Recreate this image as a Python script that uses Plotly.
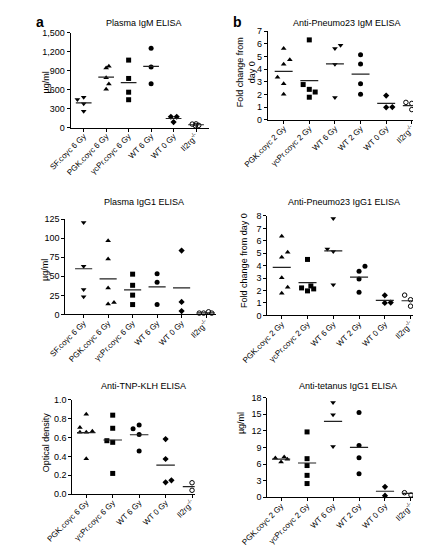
import numpy as np
import plotly.graph_objects as go

# ---------------- data ----------------
cats_a = ["SF.coγc 6 Gy", "PGK.coγc 6 Gy", "γcPr.coγc 6 Gy", "WT 6 Gy", "WT 0 Gy", "Il2rg<sup>-/-</sup>"]
cats_b = ["PGK.coγc 2 Gy", "γcPr.coγc 2 Gy", "WT 6 Gy", "WT 2 Gy", "WT 0 Gy", "Il2rg<sup>-/-</sup>"]
cats_tnp = ["PGK.coγc 6 Gy", "γcPr.coγc 6 Gy", "WT 6 Gy", "WT 0 Gy", "Il2rg<sup>-/-</sup>"]

# Plasma IgM (µg/ml)
igm_sf = [445, 481, 378, 259]
igm_pgk = [967, 941, 786, 688, 605]
igm_gcpr = [1066, 776, 559, 440]
igm_wt6 = [1252, 957, 693]
igm_wt0 = [171, 171, 88]
igm_il2rg = [55, 58, 35, 30]

# Anti-Pneumo23 IgM (fold change)
pnm_pgk = [5.62, 4.38, 4.74, 3.35, 2.84, 2.01]
pnm_gcpr = [6.31, 2.78, 2.40, 2.19, 1.78]
pnm_wt6 = [5.62, 5.88, 4.38, 1.75]
pnm_wt2 = [5.13, 4.41, 2.84, 2.01]
pnm_wt0 = [1.91, 0.98, 1.00]
pnm_il2rg = [1.37, 1.29, 0.80, 0.98]

# Plasma IgG1 (µg/ml)
igg_sf = [120.7, 63.1, 32.6, 23.2]
igg_pgk = [96.6, 72.6, 34.8, 13.7, 15.5]
igg_gcpr = [52.8, 38.2, 25.3, 12.9]
igg_wt6 = [53.3, 42.1, 12.9]
igg_wt0 = [83.8, 16.3, 4.3]
igg_il2rg = [1.7, 1.7, 3.4, 1.7]

# Anti-Pneumo23 IgG1 (fold change)
png_pgk = [6.37, 5.08, 4.68, 3.03, 2.26, 1.79]
png_gcpr = [4.50, 2.21, 1.97, 2.37, 2.13]
png_wt6 = [7.79, 5.34, 5.13, 2.47]
png_wt2 = [3.55, 3.95, 2.92, 1.87]
png_wt0 = [1.61, 1.00, 1.03]
png_il2rg = [1.63, 1.26, 0.74, 1.08]

# Anti-TNP-KLH (optical density)
tnp_pgk = [0.847, 0.705, 0.656, 0.656, 0.667, 0.375]
tnp_gcpr = [0.837, 0.698, 0.566, 0.549, 0.219]
tnp_wt6 = [0.694, 0.733, 0.632, 0.458]
tnp_wt0 = [0.583, 0.372, 0.125, 0.146]
tnp_il2rg = [0.12, 0.04, 0.075]

# Anti-tetanus IgG1 (µg/ml)
tet_pgk = [7.08, 6.38, 7.26, 6.85]
tet_gcpr = [11.8, 6.97, 5.73, 3.96, 2.48]
tet_wt6 = [17.1, 14.9, 9.15]
tet_wt2 = [15.3, 9.33, 7.14, 4.25]
tet_wt0 = [1.89, 0.30]
tet_il2rg = [0.83, 0.41, 0.83]

# ---------------- horizontal jitter (category units) ----------------
off_igm = [[-0.28, 0, 0, 0], [0.12, 0, 0, 0.12, 0], [0, 0, 0, 0], [0, 0, 0],
           [-0.12, 0.14, 0], [-0.17, 0.0, 0.12, -0.03]]
off_pnm = [[0, 0, 0.24, -0.24, 0, 0], [0, -0.24, 0, 0.23, 0], [0, 0.22, 0, 0],
           [0, 0, 0, 0], [0, 0, 0.24], [-0.23, 0, 0, 0.22]]
off_igg = [[0, 0, 0, 0], [0, 0, 0, 0, 0.24], [0, 0, 0, 0], [0, 0, 0],
           [0, 0, 0], [-0.28, -0.1, 0.1, 0.23]]
off_png = [[0, 0.23, 0, 0, 0.23, 0], [0, -0.23, 0, 0.13, 0.24], [0, -0.23, 0, 0],
           [0, 0.23, 0, 0], [0, 0, 0.23], [-0.23, 0, 0, 0.23]]
off_tnp = [[0, -0.24, -0.24, 0, 0.23, 0], [0, 0, -0.22, 0, 0], [-0.23, 0, 0, 0],
           [0, 0, 0, 0.22], [0, 0, 0.23]]
off_tet = [[-0.22, 0, 0.12, 0.24], [0, 0, 0, 0, 0], [0, 0, 0], [0, 0, 0, 0],
           [0, 0], [-0.25, 0, 0.22]]

sym_a = ["triangle-down", "triangle-up", "square", "circle", "diamond", "circle-open"]
sym_b = ["triangle-up", "square", "triangle-down", "circle", "diamond", "circle-open"]
sym_tnp = ["triangle-up", "square", "circle", "diamond", "circle-open"]

panels = [
    dict(groups=[igm_sf, igm_pgk, igm_gcpr, igm_wt6, igm_wt0, igm_il2rg], offs=off_igm,
         cats=cats_a, syms=sym_a, xr=[-0.58, 5.57], yr=[0, 1500], dtick=300, fmt=",",
         dom_x=[38.3, 186.7], dom_y=[20, 116.7]),
    dict(groups=[pnm_pgk, pnm_gcpr, pnm_wt6, pnm_wt2, pnm_wt0, pnm_il2rg], offs=off_pnm,
         cats=cats_b, syms=sym_b, xr=[-0.62, 5.52], yr=[0, 7], dtick=1, fmt="",
         dom_x=[250, 419], dom_y=[18.5, 108.7]),
    dict(groups=[igg_sf, igg_pgk, igg_gcpr, igg_wt6, igg_wt0, igg_il2rg], offs=off_igg,
         cats=cats_a, syms=sym_a, xr=[-0.75, 5.39], yr=[0, 125], dtick=25, fmt="",
         dom_x=[32.5, 194], dom_y=[210, 307]),
    dict(groups=[png_pgk, png_gcpr, png_wt6, png_wt2, png_wt0, png_il2rg], offs=off_png,
         cats=cats_b, syms=sym_b, xr=[-0.56, 5.24], yr=[0, 8], dtick=1, fmt="",
         dom_x=[249.5, 410], dom_y=[206.7, 308]),
    dict(groups=[tnp_pgk, tnp_gcpr, tnp_wt6, tnp_wt0, tnp_il2rg], offs=off_tnp,
         cats=cats_tnp, syms=sym_tnp, xr=[-0.53, 4.1], yr=[0, 1.0], dtick=0.2, fmt=".1f",
         dom_x=[40, 171.5], dom_y=[394, 490]),
    dict(groups=[tet_pgk, tet_gcpr, tet_wt6, tet_wt2, tet_wt0, tet_il2rg], offs=off_tet,
         cats=cats_b, syms=sym_b, xr=[-0.53, 5.52], yr=[0, 18], dtick=3, fmt="",
         dom_x=[249.5, 418.3], dom_y=[391.7, 493.3]),
]

W, H = 421, 548
FONT = "Liberation Sans, Arial, sans-serif"
fig = go.Figure()
layout = {}

for p_i, p in enumerate(panels):
    n = "" if p_i == 0 else str(p_i + 1)
    xa, ya = "x" + n, "y" + n
    for g_i, (vals, offs, sym) in enumerate(zip(p["groups"], p["offs"], p["syms"])):
        xs = [g_i + o for o in offs]
        open_m = sym.endswith("open")
        fig.add_trace(go.Scatter(
            x=xs, y=vals, mode="markers", xaxis=xa, yaxis=ya, cliponaxis=False,
            marker=dict(symbol=sym, size=4.5 if open_m else (4.8 if sym == "diamond" else 5),
                        color="black", line=dict(color="black", width=1 if open_m else 0)),
            showlegend=False, hoverinfo="skip"))
        m = float(np.mean(vals))
        fig.add_trace(go.Scatter(
            x=[g_i - 0.35, g_i + 0.35], y=[m, m], mode="lines", xaxis=xa, yaxis=ya,
            line=dict(color="#222222", width=1.2), showlegend=False, hoverinfo="skip"))
    layout["xaxis" + n] = dict(
        domain=[p["dom_x"][0] / W, p["dom_x"][1] / W], anchor=ya, range=p["xr"],
        tickmode="array", tickvals=list(range(len(p["cats"]))), ticktext=p["cats"],
        tickangle=-45, showline=True, linecolor="black", linewidth=1, ticks="outside",
        ticklen=3, tickwidth=1, tickcolor="black", showgrid=False, zeroline=False,
        ticklabelstandoff=-3,
        tickfont=dict(family=FONT, size=8, color="black"), fixedrange=True)
    layout["yaxis" + n] = dict(
        domain=[1 - p["dom_y"][1] / H, 1 - p["dom_y"][0] / H], anchor=xa, range=p["yr"],
        dtick=p["dtick"], tick0=0, tickformat=p["fmt"], showline=True, linecolor="black",
        linewidth=1, ticks="outside", ticklen=3, tickwidth=1, tickcolor="black",
        showgrid=False, zeroline=False, tickfont=dict(family=FONT, size=9, color="black"),
        fixedrange=True)

titles = [
    ("Plasma IgM ELISA", 117.5, 10), ("Anti-Pneumo23 IgM ELISA", 335, 10),
    ("Plasma IgG1 ELISA", 117, 193), ("Anti-Pneumo23 IgG1 ELISA", 332, 193),
    ("Anti-TNP-KLH ELISA", 116, 380), ("Anti-tetanus IgG1 ELISA", 336, 379.5),
]
ytitles = [
    ("µg/ml", 11.5, 71), ("Fold change from<br>day 0", 227, 60),
    ("µg/ml", 11.5, 262), ("Fold change from day 0", 225, 252),
    ("Optical density", 12, 437), ("µg/ml", 222, 418),
]
ann = []
for t, x, y in titles:
    ann.append(dict(text=t, x=x / W, y=1 - y / H, xref="paper", yref="paper",
                    showarrow=False, xanchor="center", yanchor="middle",
                    font=dict(family=FONT, size=9, color="black")))
for t, x, y in ytitles:
    ann.append(dict(text=t, x=x / W, y=1 - y / H, xref="paper", yref="paper",
                    showarrow=False, xanchor="center", yanchor="middle", textangle=-90,
                    font=dict(family=FONT, size=9, color="black")))
for t, x in [("a", 5.5), ("b", 217)]:
    ann.append(dict(text="<b>%s</b>" % t, x=x / W, y=1 - 9 / H, xref="paper", yref="paper",
                    showarrow=False, xanchor="center", yanchor="middle",
                    font=dict(family=FONT, size=14, color="black")))

fig.update_layout(width=W, height=H, margin=dict(l=0, r=0, t=0, b=0),
                  paper_bgcolor="white", plot_bgcolor="white", showlegend=False,
                  annotations=ann, **layout)
fig.write_html("out.html", include_plotlyjs=True, config={"displayModeBar": False})
